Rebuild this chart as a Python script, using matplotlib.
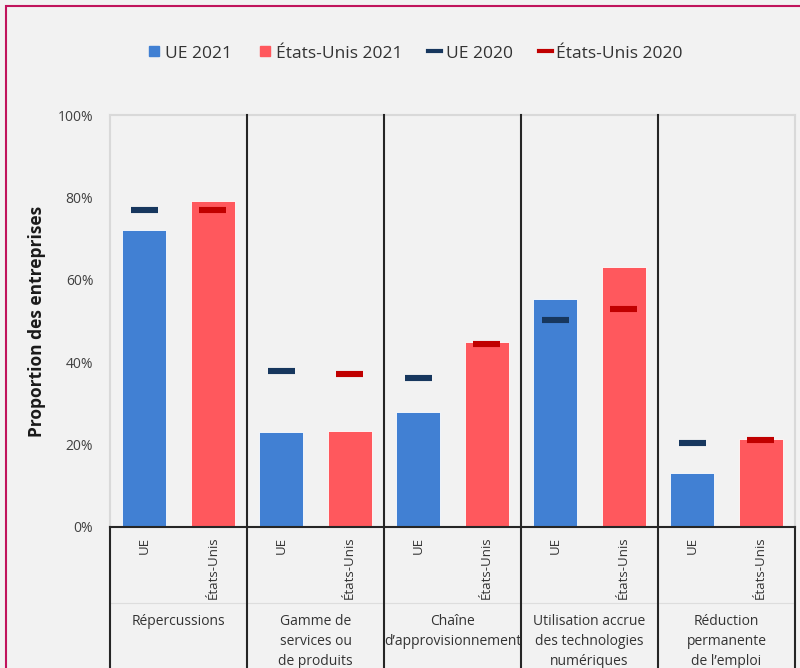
import matplotlib
matplotlib.use("Agg")
import matplotlib.pyplot as plt
from matplotlib.lines import Line2D
from matplotlib.patches import Rectangle
import numpy as np

plt.rcParams['font.family'] = ['Open Sans', 'DejaVu Sans']

groups = ["Répercussions", "Gamme de\nservices ou\nde produits", "Chaîne\nd’approvisionnement",
          "Utilisation accrue\ndes technologies\nnumériques", "Réduction\npermanente\nde l’emploi"]
sub_labels = ["UE", "États-Unis"]
ue_2021 = [72.1, 23.1, 27.9, 55.3, 13.1]
us_2021 = [79.1, 23.2, 44.9, 63.1, 21.4]
ue_2020 = [77.0, 37.9, 36.2, 50.2, 20.4]
us_2020 = [77.0, 37.1, 44.4, 52.9, 21.1]

BG = "#F2F2F2"
BLUE = "#4180D3"
RED = "#FF585D"
NAVY = "#17375E"
DARKRED = "#C00000"
TXT = "#333333"

fig = plt.figure(figsize=(8, 6.68), dpi=100, facecolor=BG)
ax = fig.add_axes([0.1375, 0.2111, 0.85625, 0.6167], facecolor=BG)

n = len(groups)
x_ue = np.arange(n) * 2
x_us = x_ue + 1
bw = 0.64
mw = 0.39

ax.bar(x_ue, ue_2021, width=bw, color=BLUE, edgecolor="white", linewidth=0.6, zorder=2)
ax.bar(x_us, us_2021, width=bw, color=RED, edgecolor="white", linewidth=0.6, zorder=2)
ax.hlines(ue_2020, x_ue - mw / 2, x_ue + mw / 2, color=NAVY, linewidth=4.4, zorder=3)
ax.hlines(us_2020, x_us - mw / 2, x_us + mw / 2, color=DARKRED, linewidth=4.4, zorder=3)

ax.set_xlim(-0.5, 2 * n - 0.5)
ax.set_ylim(0, 100)
ax.set_yticks(range(0, 101, 20))
ax.set_yticklabels([f"{v}%" for v in range(0, 101, 20)], fontsize=10, color="#404040")
ax.tick_params(axis="y", length=0, pad=12)
ax.set_xticks([])
for s in ["left", "right", "top"]:
    ax.spines[s].set_color("#D9D9D9")
    ax.spines[s].set_linewidth(1.5)
ax.spines["bottom"].set_color("#262626")
ax.spines["bottom"].set_linewidth(1.5)

ax.set_ylabel("Proportion des entreprises", fontsize=12.5, fontweight="bold", color="#1a1a1a")
ax.yaxis.set_label_coords(-0.094, 0.5)

trans = ax.get_xaxis_transform()
ybot = -0.345
# group separators running through the plot and the label area
for i in range(1, n):
    xs = 2 * i - 0.5
    ax.add_line(Line2D([xs, xs], [ybot, 1], transform=trans, color="#262626", lw=1.5, clip_on=False, zorder=4))
for xs in [-0.5, 2 * n - 0.5]:
    ax.add_line(Line2D([xs, xs], [ybot, 0], transform=trans, color="#262626", lw=1.5, clip_on=False, zorder=4))
ax.add_line(Line2D([-0.5, 2 * n - 0.5], [-0.184, -0.184], transform=trans, color="#DDDDDD", lw=0.8, clip_on=False))

for i in range(n):
    for j, lab in enumerate(sub_labels):
        ax.text(2 * i + j, -0.024, lab, transform=trans, rotation=90, ha="center", va="top",
                fontsize=9.5, color=TXT)
    ax.text(2 * i + 0.5, -0.212, groups[i], transform=trans, ha="center", va="top",
            fontsize=10, color=TXT, linespacing=1.45)

handles = [
    Line2D([], [], marker="s", linestyle="none", markersize=7, color=BLUE),
    Line2D([], [], marker="s", linestyle="none", markersize=7, color=RED),
    Line2D([], [], color=NAVY, lw=3),
    Line2D([], [], color=DARKRED, lw=3),
]
fig.legend(handles, ["UE 2021", "États-Unis 2021", "UE 2020", "États-Unis 2020"],
           loc="center", bbox_to_anchor=(0.519, 0.92), ncol=4, frameon=False,
           fontsize=12.5, handlelength=0.75, handletextpad=0.25, columnspacing=1.5,
           labelcolor=TXT)

fig.patches.append(Rectangle((6 / 800, -0.1), 1.2, 1 - 6 / 668 + 0.1, transform=fig.transFigure,
                             fill=False, edgecolor="#C0145C", linewidth=1.5))

fig.savefig("out.png", dpi=100, facecolor=BG)
